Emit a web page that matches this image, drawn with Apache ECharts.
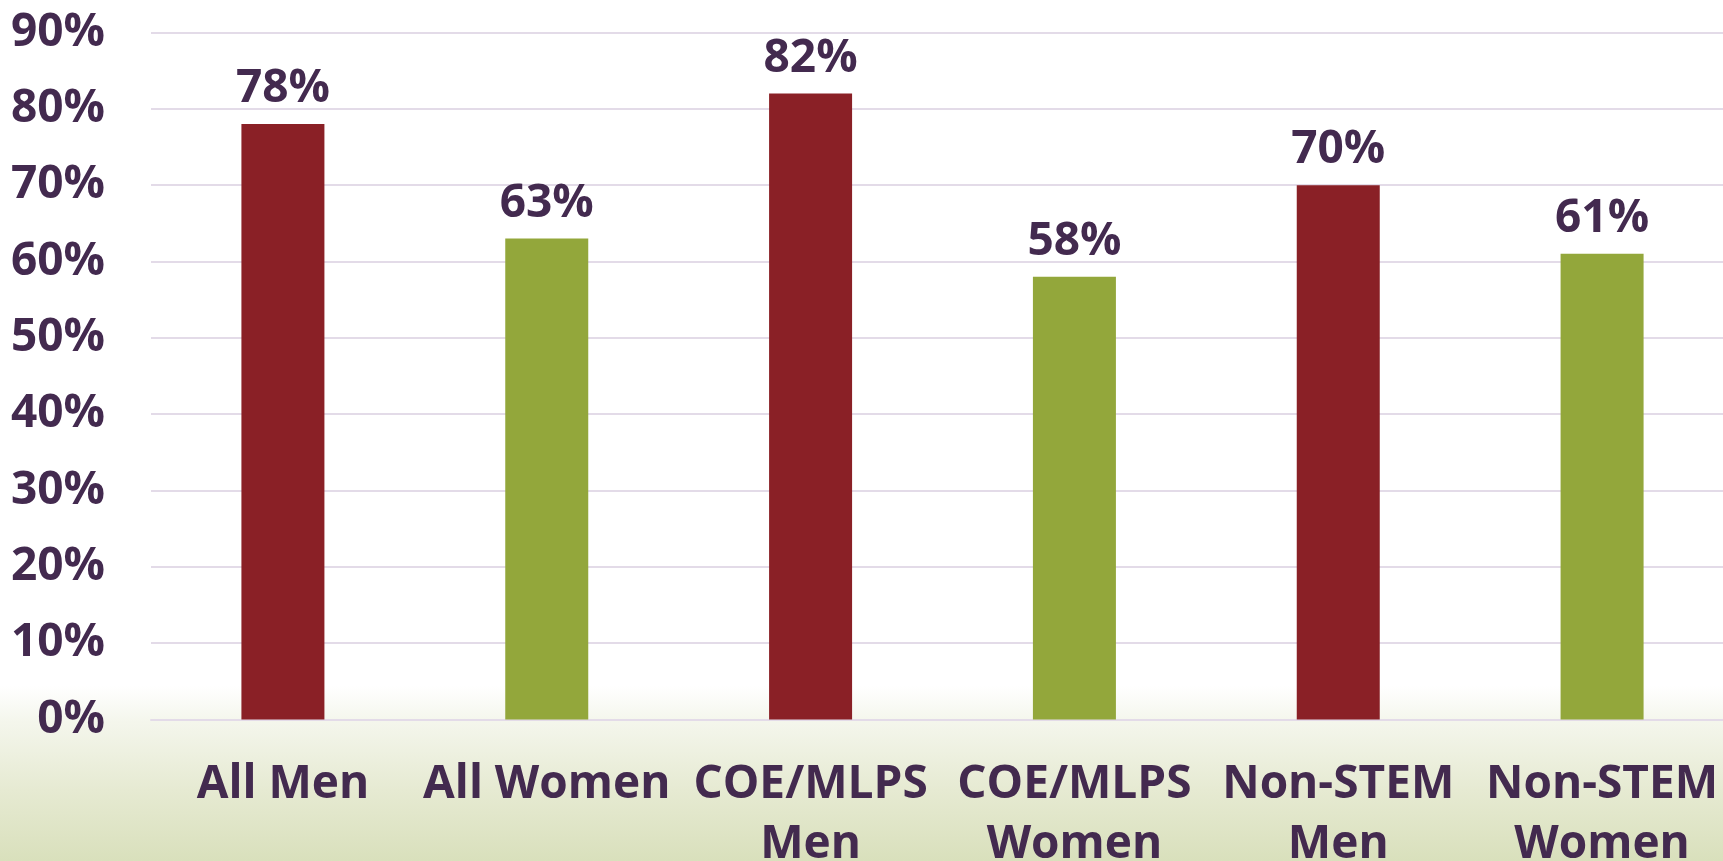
<!DOCTYPE html>
<html>
<head>
<meta charset="utf-8">
<script src="https://cdn.jsdelivr.net/npm/echarts@6/dist/echarts.min.js"></script>
<style>
html,body{margin:0;padding:0;}
body{width:1723px;height:861px;overflow:hidden;
background:linear-gradient(to bottom,#ffffff 0px,#ffffff 686px,#f4f6ec 722px,#e6eAd2 790px,#d9e0bc 861px);}
#c{width:1723px;height:861px;}
</style>
</head>
<body>
<div id="c"></div>
<script>
const categories = ['All Men', 'All Women', 'COE/MLPS\nMen', 'COE/MLPS\nWomen', 'Non-STEM\nMen', 'Non-STEM\nWomen'];
const values = [78, 63, 82, 58, 70, 61];
const barColors = ['#8a2026', '#93a73b', '#8a2026', '#93a73b', '#8a2026', '#93a73b'];
const yTicks = [0, 10, 20, 30, 40, 50, 60, 70, 80, 90];

const textColor = '#432a4f';
const font = '"Open Sans"';
const chart = echarts.init(document.getElementById('c'), null, {renderer: 'canvas'});
chart.setOption({
  backgroundColor: 'transparent',
  animation: false,
  grid: {left: 151, right: -11, top: 32.5, bottom: 861 - 719.5, containLabel: false, outerBoundsMode: 'none'},
  xAxis: {
    type: 'category',
    data: categories,
    axisLine: {show: true, lineStyle: {color: '#e3dbe8', width: 2}},
    axisTick: {show: false},
    axisLabel: {
      interval: 0, margin: 35, color: textColor, fontFamily: font,
      fontWeight: 'bold', fontSize: 46, lineHeight: 60
    }
  },
  yAxis: {
    type: 'value',
    min: yTicks[0], max: yTicks[yTicks.length - 1], interval: 10,
    axisLine: {show: false},
    axisTick: {show: false},
    splitLine: {lineStyle: {color: '#e3dbe8', width: 2}},
    axisLabel: {
      margin: 46, color: textColor, fontFamily: font, fontWeight: 'bold', fontSize: 46,
      formatter: v => v + '%'
    }
  },
  series: [{
    type: 'bar',
    barWidth: 83,
    data: values.map((v, i) => ({value: v, itemStyle: {color: barColors[i]}})),
    label: {
      show: true, position: 'top', distance: 12, color: textColor, fontFamily: font,
      fontWeight: 'bold', fontSize: 46, formatter: p => p.value + '%'
    }
  }]
});
</script>
</body>
</html>
